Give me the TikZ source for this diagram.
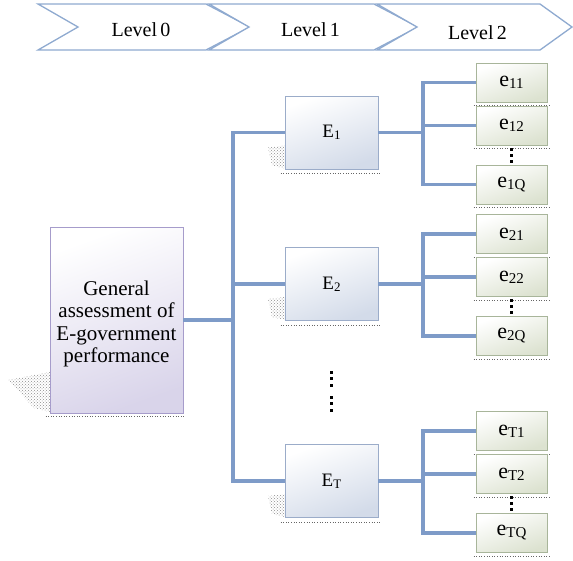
\documentclass[tikz,border=0pt]{standalone}
\usepackage{fontspec}
\setmainfont{Liberation Serif}
\usetikzlibrary{positioning,patterns}

\definecolor{chevblue}{HTML}{8FAAD0}
\definecolor{linkblue}{HTML}{7E9BC8}
\definecolor{mainedge}{HTML}{A69CCB}
\definecolor{mainfill}{HTML}{D9D4EA}
\definecolor{critedge}{HTML}{9BACC9}
\definecolor{critfill}{HTML}{D3DBE9}
\definecolor{indedge}{HTML}{A8B59A}
\definecolor{indfill}{HTML}{DCE2D0}

\newcommand\lowidx[2]{\raisebox{-2pt}{\fontsize{#1}{#1}\selectfont #2}}

\tikzset{
  levelarrow/.style={draw=chevblue, line width=1.3pt, fill=white, line join=miter},
  link/.style={draw=linkblue, line width=3.4pt},
  mainbox/.style={draw=mainedge, line width=0.8pt, top color=white, bottom color=mainfill,
    shading angle=20, minimum width=133pt, minimum height=186pt, inner sep=0pt,
    align=center, font=\fontsize{21}{22.5}\selectfont},
  critbox/.style={draw=critedge, line width=0.8pt, top color=white, bottom color=critfill,
    shading angle=20, minimum width=93pt, minimum height=73pt, inner sep=0pt,
    font=\fontsize{19}{20}\selectfont},
  indbox/.style={draw=indedge, line width=0.8pt, top color=white, bottom color=indfill,
    shading angle=20, minimum width=71pt, minimum height=39pt, inner sep=0pt,
    font=\fontsize{22}{22}\selectfont},
  dotshadow/.style={draw=black!60, dotted, line width=0.6pt},
  dotpatch/.style={pattern=crosshatch dots, pattern color=black!45, draw=none},
}

\begin{document}
\begin{tikzpicture}[x=1pt, y=-1pt]
    \useasboundingbox (0,0) rectangle (573,560);
    \def\hubx{233} % x of the main trunk
    \def\subx{423} % x of the small trunks

    % level banner
    \foreach \l/\r/\t/\ty/\lab in {38/206/250/30/0, 209/374/418/30/1, 377/540/572/33/2}{
      \draw[levelarrow] (\l,4) -- (\r,4) -- (\t,27) -- (\r,50) -- (\l,50) -- (\l+40,27) -- cycle;
      \node (lvl\lab) at ({(\l+38+\r)/2},\ty) {\fontsize{20}{22}\selectfont Level\,\lab};
    }

    % level 0
    \fill[dotpatch] (8,380) -- (50,372) -- (50,412) -- (34,408) -- cycle;
    \node[mainbox] (gen) at (116.5,320) {\\General\\assessment of\\E-government\\performance};
    \draw[dotshadow] ([shift={(-4,3)}]gen.south west) -- ([shift={(2,3)}]gen.south east);

    % level 1 and level 2
    \foreach \k/\y in {1/132.5, 2/284, T/481}{
      \fill[dotpatch] (268,\y+15) -- (285,\y+13) -- (285,\y+36) -- (272,\y+33) -- cycle;
      \node[critbox] (E\k) at (331.5,\y) {E\lowidx{13}{\k}};
      \draw[dotshadow] ([shift={(-4,4)}]E\k.south west) -- ([shift={(2,4)}]E\k.south east);
      \foreach \j/\dy in {1/-50, 2/-7, Q/52}{
        \node[indbox] (e\k\j) at (511.5,\y+\dy) {e\lowidx{15}{\k\j}};
        \draw[dotshadow] ([shift={(-2,3)}]e\k\j.south west) -- ([shift={(2,3)}]e\k\j.south east);
      }
      \coordinate (sub\k) at (\subx,\y);
      \draw[link] (E\k.east) -- (sub\k);
      \draw[link] (e\k1.west) -| (sub\k) |- (e\k Q.west);
      \draw[link] (sub\k |- e\k2.west) -- (e\k2.west);
      \foreach \dd in {16.5,22.5,28.5}
        \fill (510,\y+\dd-1.5) rectangle ++(3,3);
    }

    % main trunk
    \coordinate (hub) at (\hubx,320);
    \draw[link] (E1.west) -| (hub) |- (ET.west);
    \draw[link] (gen.east) -- (hub);
    \draw[link] (hub |- E2.west) -- (E2.west);

    % dots between E2 and ET
    \foreach \yy in {372,378,385,397,403,410}
      \fill (330,\yy-1.5) rectangle ++(3,3);
\end{tikzpicture}
\end{document}
